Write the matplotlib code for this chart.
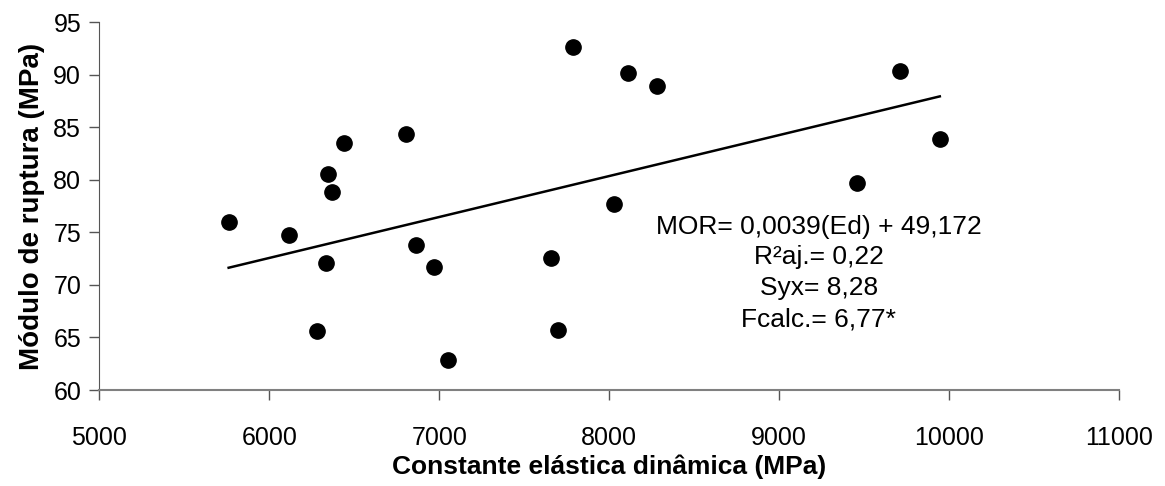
import matplotlib
matplotlib.use("Agg")
import matplotlib.pyplot as plt
import numpy as np

plt.rcParams['font.family'] = ['Liberation Sans', 'DejaVu Sans']

# dados
ed = [5761, 6114, 6441, 6804, 6347, 6367, 6334, 6863, 6969, 6281,
      7051, 7786, 8112, 8279, 8026, 7657, 7699, 9459, 9710, 9944]
mor = [75.96, 74.73, 83.54, 84.37, 80.53, 78.88, 72.06, 73.83, 71.74, 65.65,
       62.83, 92.65, 90.20, 88.94, 77.68, 72.59, 65.74, 79.73, 90.34, 83.92]

# coeficientes da equação mostrada no gráfico
a, b = 0.0039, 49.172

x_ticks = [5000, 6000, 7000, 8000, 9000, 10000, 11000]
y_ticks = [60, 65, 70, 75, 80, 85, 90, 95]

eq_text = "MOR= 0,0039(Ed) + 49,172\nR²aj.= 0,22\nSyx= 8,28\nFcalc.= 6,77*"

fig = plt.figure(figsize=(11.65, 4.86), dpi=100)
ax = fig.add_axes([0.0852, 0.1975, 0.8756, 0.7565])

ax.plot(ed, mor, 'o', color='black', markersize=11, zorder=3)

# linha de tendência
xl = np.array([min(ed), max(ed)])
ax.plot(xl, a * xl + b, color='black', lw=1.8)

ax.set_xlim(5000, 11000)
ax.set_ylim(60, 95)
ax.set_xticks(x_ticks)
ax.set_yticks(y_ticks)
ax.tick_params(labelsize=18, length=7, width=1, color='#555555', direction='out')
ax.tick_params(axis='x', pad=19)
ax.tick_params(axis='y', pad=6)

for s in ['top', 'right']:
    ax.spines[s].set_visible(False)
ax.spines['left'].set_color('#555555')
ax.spines['bottom'].set_color('#808080')
ax.spines['bottom'].set_linewidth(1.5)

ax.set_xlabel('Constante elástica dinâmica (MPa)', fontsize=19, fontweight='bold', labelpad=3)
ax.set_ylabel('Módulo de ruptura (MPa)', fontsize=20, fontweight='bold', labelpad=6)

ax.text(9232, 71.15, eq_text, fontsize=19, ha='center', va='center',
        multialignment='center', linespacing=1.36)

fig.savefig('out.png', dpi=100)
